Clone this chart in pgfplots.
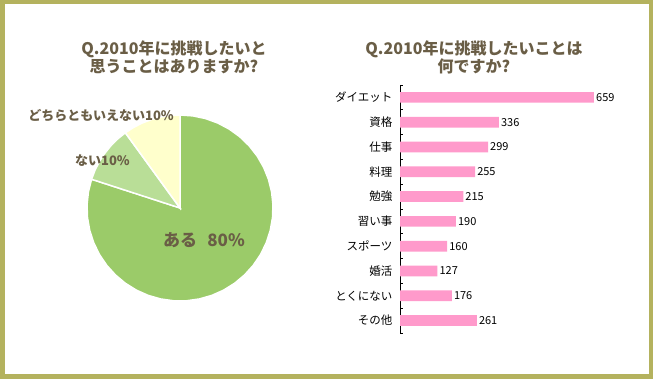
\documentclass[border=0pt]{standalone}
\usepackage{fontspec}
\setmainfont{Noto Sans CJK JP}
\usepackage{pgfplots}
\pgfplotsset{compat=1.18}
\definecolor{frame}{HTML}{B4B25E}
\definecolor{ttl}{HTML}{6A5E46}
\definecolor{g1}{HTML}{9BCB69}
\definecolor{g2}{HTML}{B9DE97}
\definecolor{g3}{HTML}{FFFFCC}
\definecolor{pink}{HTML}{FF9ACB}
\begin{document}
\begin{tikzpicture}
\fill[white] (0pt,0pt) rectangle (653pt,379pt);
\draw[frame, line width=4.5pt] (2.25pt,2.25pt) rectangle (650.75pt,376.75pt);
% titles
\node[font=\bfseries\fontsize{16}{18}\selectfont, text=ttl, align=center] at (174pt,322pt) {Q.2010年に挑戦したいと\\思うことはありますか?};
\node[font=\bfseries\fontsize{16}{18}\selectfont, text=ttl, align=center] at (474pt,322pt) {Q.2010年に挑戦したいことは\\何ですか?};
% pie
\begin{axis}[at={(180pt,171pt)}, anchor=center, scale only axis, width=200pt, height=200pt,
  xmin=-100, xmax=100, ymin=-100, ymax=100, hide axis, clip=false]
\addplot[fill=g1, draw=white, line width=1.5pt, data cs=polar] coordinates {(0,0) (90,93) (82,93) (74,93) (66,93) (58,93) (50,93) (42,93) (34,93) (26,93) (18,93) (10,93) (2,93) (-6,93) (-14,93) (-22,93) (-30,93) (-38,93) (-46,93) (-54,93) (-62,93) (-70,93) (-78,93) (-86,93) (-94,93) (-102,93) (-110,93) (-118,93) (-126,93) (-134,93) (-142,93) (-150,93) (-158,93) (-166,93) (-174,93) (-182,93) (-190,93) (-198,93)} -- cycle;
\addplot[fill=g2, draw=white, line width=1.5pt, data cs=polar] coordinates {(0,0) (162,93) (156,93) (150,93) (144,93) (138,93) (132,93) (126,93)} -- cycle;
\addplot[fill=g3, draw=white, line width=1.5pt, data cs=polar] coordinates {(0,0) (126,93) (120,93) (114,93) (108,93) (102,93) (96,93) (90,93)} -- cycle;
\node[font=\bfseries\fontsize{17}{19}\selectfont, text=ttl] at (axis cs:24,-32) {ある\hspace{0.6em}80\%};
\node[font=\bfseries\fontsize{13}{15}\selectfont, text=ttl, anchor=east, inner sep=0pt] at (axis cs:-50,47) {ない10\%};
\node[font=\bfseries\fontsize{13}{15}\selectfont, text=ttl, anchor=east, inner sep=0pt] at (axis cs:-6,92) {どちらともいえない10\%};
\end{axis}
% bars
\begin{axis}[at={(400pt,294pt)}, anchor=north west, scale only axis, width=235.5pt, height=248pt,
  xmin=0, xmax=800, ymin=-0.5, ymax=9.5, y dir=reverse,
  xbar, bar width=10.7pt,
  axis x line=none, axis y line*=left,
  y axis line style={black, line width=0.8pt},
  ytick={0,...,9},
  yticklabels={ダイエット,資格,仕事,料理,勉強,習い事,スポーツ,婚活,とくにない,その他},
  major tick length=0pt,
  minor ytick={-0.5,0.5,1.5,2.5,3.5,4.5,5.5,6.5,7.5,8.5,9.5},
  minor tick length=3pt, tick align=inside,
  minor tick style={black, line width=0.8pt},
  yticklabel style={font=\fontsize{11.5}{13}\selectfont, text=black, xshift=-4pt},
  nodes near coords,
  /pgf/number format/assume math mode=true,
  nodes near coords style={font=\fontsize{11}{13}\selectfont, text=black, inner sep=2pt},
  clip=false]
\addplot[fill=pink, draw=none] coordinates {(659,0) (336,1) (299,2) (255,3) (215,4) (190,5) (160,6) (127,7) (176,8) (261,9)};
\end{axis}
\end{tikzpicture}
\end{document}
